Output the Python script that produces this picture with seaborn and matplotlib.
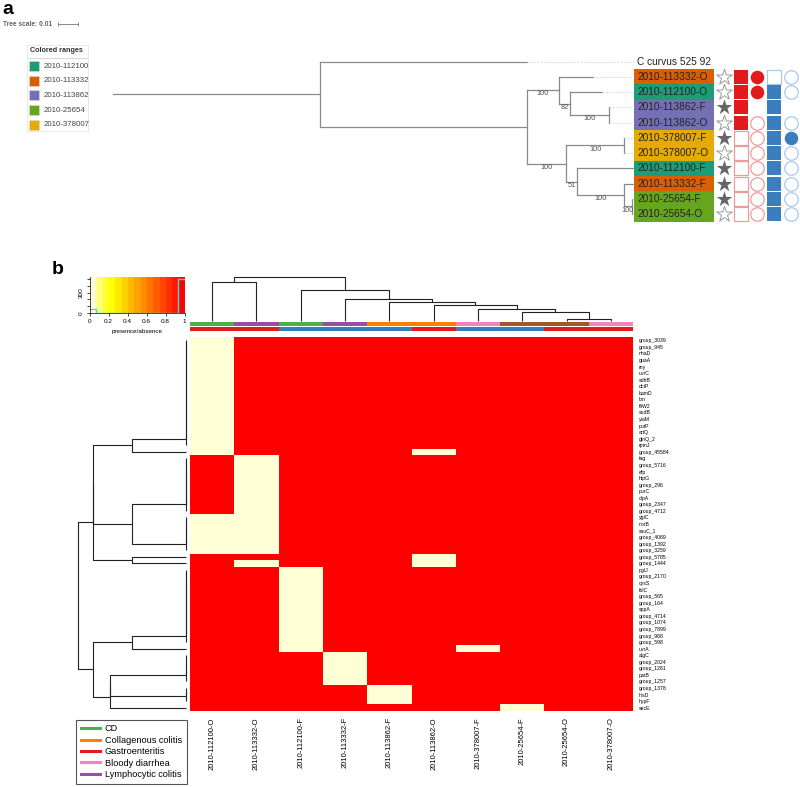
import colorsys
import numpy as np
import pandas as pd
import matplotlib
matplotlib.use("Agg")
import matplotlib.pyplot as plt
import seaborn as sns
from matplotlib.colors import ListedColormap
from matplotlib.patches import Rectangle
from matplotlib.lines import Line2D

plt.rcParams["font.family"] = ["Liberation Sans", "DejaVu Sans"]

W, H = 800, 787

# ---------------- panel a: phylogeny ----------------
tree_nodes = ["root", "C curvus 525 92", "A", "B", "2010-113332-O", "C", "2010-112100-O", "D",
              "2010-113862-F", "2010-113862-O", "E", "F", "2010-378007-F", "2010-378007-O",
              "G", "2010-112100-F", "H", "2010-113332-F", "I", "2010-25654-F", "2010-25654-O"]
tree_parent = [None, "root", "root", "A", "B", "B", "C", "C", "D", "D", "A", "E", "F", "F",
               "E", "G", "G", "H", "H", "I", "I"]
branch_len = [0.1035, 0.1035, 0.1035, 0.016, 0.017, 0.0055, 0.016, 0.0193, 0.0, 0.0,
              0.0195, 0.0292, 0.0, 0.0, 0.0053, 0.0287, 0.0238, 0.0048, 0.0037, 0.0, 0.0]
bootstrap = [None, None, None, 100, None, 82, None, 100, None, None, 100, 100, None, None,
             51, None, 100, None, 100, None, None]
leaf_order = ["C curvus 525 92", "2010-113332-O", "2010-112100-O", "2010-113862-F",
              "2010-113862-O", "2010-378007-F", "2010-378007-O", "2010-112100-F",
              "2010-113332-F", "2010-25654-F", "2010-25654-O"]
leaf_strain = [None, "2010-113332", "2010-112100", "2010-113862", "2010-113862", "2010-378007",
               "2010-378007", "2010-112100", "2010-113332", "2010-25654", "2010-25654"]
strains = ["2010-112100", "2010-113332", "2010-113862", "2010-25654", "2010-378007"]
strain_colors = ["#1b9e77", "#d95f02", "#7570b3", "#66a61e", "#e6ab02"]

# symbol columns for the 10 isolates: 1 filled, 0 open, -1 not shown
star_fill = [0, 0, 1, 0, 1, 0, 1, 1, 1, 0]
red_square = [1, 1, 1, 1, 0, 0, 0, 0, 0, 0]
red_circle = [1, 1, -1, 0, 0, 0, 0, 0, 0, 0]
blue_square = [0, 1, 1, 1, 1, 1, 1, 1, 1, 1]
blue_circle = [0, 0, -1, 0, 1, 0, 0, 0, 0, 0]

# ---------------- panel b: gene presence/absence ----------------
samples = ["2010-112100-O", "2010-113332-O", "2010-112100-F", "2010-113332-F", "2010-113862-F",
           "2010-113862-O", "2010-378007-F", "2010-25654-F", "2010-25654-O", "2010-378007-O"]
genes = ["group_3039", "group_945", "nhaD", "guaA", "rny", "uvrC", "sdhB", "dctP", "bamD", "lon",
         "fliW2", "sodB", "yiaM", "putP", "artQ", "glnQ_2", "rpmJ", "group_45584", "tag",
         "group_5716", "efp", "htpG", "group_296", "purC", "clpA", "group_2347", "group_4712",
         "ygiC", "norB", "ssuC_1", "group_4069", "group_1392", "group_3259", "group_5785",
         "group_1444", "pglJ", "group_2170", "cysS", "folC", "group_565", "group_164", "sppA",
         "group_4714", "group_1074", "group_7899", "group_968", "group_598", "uvrA", "algC",
         "group_2024", "group_1261", "parB", "group_1257", "group_1378", "hisD", "hypF", "secE"]
presence = [
    "0111111111", "0111111111", "0111111111", "0111111111", "0111111111", "0111111111",
    "0111111111", "0111111111", "0111111111", "0111111111", "0111111111", "0111111111",
    "0111111111", "0111111111", "0111111111", "0111111111", "0111111111", "0111101111",
    "1011111111", "1011111111", "1011111111", "1011111111", "1011111111", "1011111111",
    "1011111111", "1011111111", "1011111111", "0011111111", "0011111111", "0011111111",
    "0011111111", "0011111111", "0011111111", "1111101111", "1011101111", "1101111111",
    "1101111111", "1101111111", "1101111111", "1101111111", "1101111111", "1101111111",
    "1101111111", "1101111111", "1101111111", "1101111111", "1101111111", "1101110111",
    "1110111111", "1110111111", "1110111111", "1110111111", "1110111111", "1111011111",
    "1111011111", "1111011111", "1111111011",
]
bar_top_colors = ["#4daf4a", "#984ea3", "#4daf4a", "#984ea3", "#ff7f00", "#ff7f00",
                  "#f781bf", "#a65628", "#a65628", "#f781bf"]
bar_bottom_colors = ["#e41a1c", "#e41a1c", "#377eb8", "#377eb8", "#377eb8", "#e41a1c",
                     "#377eb8", "#377eb8", "#e41a1c", "#e41a1c"]
legend_labels = ["CD", "Collagenous colitis", "Gastroenteritis", "Bloody diarrhea",
                 "Lymphocytic colitis"]
legend_colors = ["#4daf4a", "#ff7f00", "#e41a1c", "#f781bf", "#984ea3"]
key_ticks = [0, 100, 200, 300, 400, 500]
key_tick_labels = ["0", "", "", "300", "", ""]


def heat_colors(n):
    # same recipe as R's heat.colors()
    j = n // 4
    i = n - j
    cols = [colorsys.hsv_to_rgb(h, 1, 1) for h in np.linspace(0, 1 / 6, i)]
    cols += [colorsys.hsv_to_rgb(1 / 6, s, 1) for s in np.linspace(1 - 1 / (2 * j), 1 / (2 * j), j)]
    return cols


def complete_linkage(X):
    # complete linkage, euclidean; ties go to neighbouring clusters first
    X = np.asarray(X, float)
    n = len(X)
    D = np.sqrt(((X[:, None, :] - X[None, :, :]) ** 2).sum(-1))
    members = {i: [i] for i in range(n)}
    merges = []
    nxt = n
    while len(members) > 1:
        ids = sorted(members, key=lambda c: min(members[c]))
        best = None
        for ia, a in enumerate(ids):
            for b in ids[ia + 1:]:
                d = D[np.ix_(members[a], members[b])].max()
                gap = max(0, min(members[b]) - max(members[a]) - 1)
                key = (round(d, 9), gap, min(members[a]))
                if best is None or key < best[0]:
                    best = (key, a, b, d)
        _, a, b, d = best
        merges.append((a, b, d))
        members[nxt] = members.pop(a) + members.pop(b)
        nxt += 1
    return merges


def draw_dendrogram(ax, merges, n, leaf_base, horizontal):
    pos = {i: i + 0.5 for i in range(n)}
    hgt = {i: leaf_base for i in range(n)}
    for k, (a, b, d) in enumerate(merges):
        p = [pos[a], pos[a], pos[b], pos[b]]
        h = [hgt[a], d, d, hgt[b]]
        if horizontal:
            ax.plot(h, p, color="#222222", lw=0.8, clip_on=False, solid_capstyle="butt")
        else:
            ax.plot(p, h, color="#222222", lw=0.8, clip_on=False, solid_capstyle="butt")
        pos[n + k] = (pos[a] + pos[b]) / 2
        hgt[n + k] = d


fig = plt.figure(figsize=(W / 100, H / 100), dpi=100)


def px_axes(x0, y0, x1, y1):
    return fig.add_axes([x0 / W, 1 - y1 / H, (x1 - x0) / W, (y1 - y0) / H])


def fx(px):
    return px / W


def fy(py):
    return 1 - py / H


# ======== panel a ========
ax_a = px_axes(0, 0, W, 240)
ax_a.axis("off")
PX0, PXS = 320, 2000      # root position (px) and px per unit branch length
ROW0, ROWS = 61.6, 15.24  # first leaf row (px) and row pitch (px)
ax_a.set_xlim(-PX0 / PXS, (W - PX0) / PXS)
ax_a.set_ylim((240 - ROW0) / ROWS, -ROW0 / ROWS)


def tx(px):
    return (px - PX0) / PXS


parent = dict(zip(tree_nodes, tree_parent))
blen = dict(zip(tree_nodes, branch_len))
boot = dict(zip(tree_nodes, bootstrap))
children = {n: [c for c, p in zip(tree_nodes, tree_parent) if p == n] for n in tree_nodes}
xpos = {}
ypos = {}


def depth(n):
    return 0.0 if parent[n] is None else depth(parent[n]) + blen[n]


def place(n):
    if not children[n]:
        ypos[n] = leaf_order.index(n)
    else:
        ys = [place(c) for c in children[n]]
        ypos[n] = (min(ys) + max(ys)) / 2
    return ypos[n]


for n in tree_nodes:
    xpos[n] = depth(n)
place("root")

tree_col = "#8a8a8a"
ax_a.plot([-blen["root"], 0], [ypos["root"]] * 2, color=tree_col, lw=0.9)
for n in tree_nodes:
    p = parent[n]
    if p is not None:
        ax_a.plot([xpos[p], xpos[n]], [ypos[n]] * 2, color=tree_col, lw=0.9)
        if boot[n] is not None:
            ax_a.text((xpos[p] + xpos[n]) / 2, ypos[n] + 0.24, str(boot[n]), fontsize=5.3,
                      color="#555555", ha="center", va="center")
    if children[n]:
        cy = [ypos[c] for c in children[n]]
        ax_a.plot([xpos[n]] * 2, [min(cy), max(cy)], color=tree_col, lw=0.9)
    else:
        ax_a.plot([xpos[n], tx(634)], [ypos[n]] * 2, color="#cfcfcf", lw=0.6, ls=(0, (2, 2)))

for i, (leaf, st) in enumerate(zip(leaf_order, leaf_strain)):
    if st is not None:
        ax_a.barh(i, tx(714) - tx(634), left=tx(634), height=1.0,
                  color=strain_colors[strains.index(st)], lw=0)
    ax_a.text(tx(637), i, leaf, fontsize=7.3, color="#222222", va="center", ha="left")

iso_y = np.arange(1, len(leaf_order))


def symbol_column(px, flags, marker, size, fill, edge_open, lw=0.9):
    for y, f in zip(iso_y, flags):
        if f < 0:
            continue
        if f == 1:
            ax_a.scatter(tx(px), y, marker=marker, s=size, color=fill, lw=0, zorder=3)
        else:
            ax_a.scatter(tx(px), y, marker=marker, s=size, facecolor="white",
                         edgecolor=edge_open, lw=lw, zorder=3)


symbol_column(724, star_fill, "*", 140, "#666666", "#9a9a9a", lw=0.7)
symbol_column(740.7, red_square, "s", 92, "#e31a1c", "#f19a9b")
symbol_column(757, red_circle, "o", 95, "#e31a1c", "#f19a9b")
symbol_column(774, blue_square, "s", 92, "#3a7ec0", "#a9c9e9")
symbol_column(790.7, blue_circle, "o", 95, "#3a7ec0", "#a9c9e9")

# tree scale
scale_y = (24 - ROW0) / ROWS
ax_a.plot([tx(58), tx(58) + 0.01], [scale_y] * 2, color="#777777", lw=0.6,
          marker="|", markersize=2.5, markeredgewidth=0.6)
fig.text(fx(3), fy(24), "Tree scale: 0.01", fontsize=4.8, weight="bold", color="#666666",
         va="center", ha="left")
fig.text(fx(2), fy(10), "a", fontsize=14, weight="bold", va="center", ha="left")

# colored ranges legend
fig.add_artist(Rectangle((fx(27), fy(131)), 61 / W, 86 / H, transform=fig.transFigure,
                         facecolor="white", edgecolor="#e4e4e4", lw=0.6))
fig.text(fx(29.5), fy(51), "Colored ranges", fontsize=5.2, weight="bold", color="#333333",
         va="center", ha="left")
fig.add_artist(Line2D([fx(28), fx(87)], [fy(57.5)] * 2, transform=fig.transFigure,
                      color="#d0d0d0", lw=0.6))
for k, (st, c) in enumerate(zip(strains, strain_colors)):
    yy = 66 + 14.7 * k
    fig.add_artist(Rectangle((fx(29), fy(yy + 5)), 10 / W, 10 / H, transform=fig.transFigure,
                             facecolor=c, edgecolor="#dddddd", lw=0.4))
    fig.text(fx(44), fy(yy), st, fontsize=5.7, color="#444444", va="center", ha="left")

# ======== panel b ========
mat = np.array([[int(ch) for ch in p] for p in presence])
df = pd.DataFrame(mat, index=genes, columns=samples)
key_colors = heat_colors(15)[::-1]
cmap = ListedColormap(key_colors)

fig.text(fx(52), fy(270), "b", fontsize=14, weight="bold", va="center", ha="left")

# heatmap
ax_hm = px_axes(190, 337, 633, 711)
sns.heatmap(df, ax=ax_hm, cmap=cmap, vmin=0, vmax=1, cbar=False,
            xticklabels=True, yticklabels=True)
ax_hm.yaxis.tick_right()
ax_hm.tick_params(axis="y", length=0, labelsize=3.7, pad=4.3, labelrotation=0)
ax_hm.tick_params(axis="x", length=0, labelsize=5.5, pad=4.5, labelrotation=90)
ax_hm.set_xlabel("")
ax_hm.set_ylabel("")

# row dendrogram
row_merges = complete_linkage(mat)
ax_rd = px_axes(77.3, 337, 185.7, 711)
draw_dendrogram(ax_rd, row_merges, len(genes), 0.0, horizontal=True)
ax_rd.set_xlim(2.02, 0)
ax_rd.set_ylim(len(genes), 0)
ax_rd.axis("off")

# column dendrogram
col_merges = complete_linkage(mat.T)
ax_cd = px_axes(190, 274, 633, 321)
draw_dendrogram(ax_cd, col_merges, len(samples), -0.29, horizontal=False)
ax_cd.set_xlim(0, len(samples))
ax_cd.set_ylim(-0.29, 6.51)
ax_cd.axis("off")

# column side colour bars
for (y0, y1), cols in [((321.5, 325.5), bar_top_colors), ((327, 331), bar_bottom_colors)]:
    ax_b = px_axes(190, y0, 633, y1)
    ax_b.bar(np.arange(len(samples)), 1, width=1, align="edge", color=cols, lw=0)
    ax_b.set_xlim(0, len(samples))
    ax_b.set_ylim(0, 1)
    ax_b.axis("off")

# colour key with histogram
ax_key = px_axes(89.6, 277, 184.6, 313)
breaks = np.linspace(0, 1, len(key_colors) + 1)
ax_key.imshow(np.arange(len(key_colors))[None, :], cmap=cmap, aspect="auto",
              extent=(0, 1, 0, 1), interpolation="nearest")
counts, _ = np.histogram(mat.ravel(), bins=breaks)
ax_key.stairs(counts / counts.max() * 0.95, breaks, baseline=None, color="#30e0e0", lw=1.0)
ax_key.set_xlim(0, 1)
ax_key.set_ylim(0, 1)
ax_key.set_xticks([0, 0.2, 0.4, 0.6, 0.8, 1])
ax_key.set_xticklabels(["0", "0.2", "0.4", "0.6", "0.8", "1"])
ax_key.set_yticks([t / counts.max() * 0.95 for t in key_ticks])
ax_key.set_yticklabels(key_tick_labels, rotation=90, va="center")
ax_key.tick_params(labelsize=4.6, length=2.5, width=0.5, pad=1.5)
for side in ["top", "right"]:
    ax_key.spines[side].set_visible(False)
for side in ["left", "bottom"]:
    ax_key.spines[side].set_linewidth(0.5)
fig.text(fx(137), fy(332), "presence/absence", fontsize=4.5, ha="center", va="center")

# disease legend
handles = [Line2D([], [], color=c, lw=2.2) for c in legend_colors]
leg = fig.legend(handles, legend_labels, loc="lower left", bbox_to_anchor=(fx(76), fy(783.5)),
                 fontsize=6.6, frameon=True, fancybox=False, edgecolor="#555555", framealpha=1,
                 handlelength=2.1, handletextpad=0.55, labelspacing=0.26, borderpad=0.5,
                 borderaxespad=0)
leg.get_frame().set_linewidth(0.8)

fig.savefig("out.png", dpi=100)
